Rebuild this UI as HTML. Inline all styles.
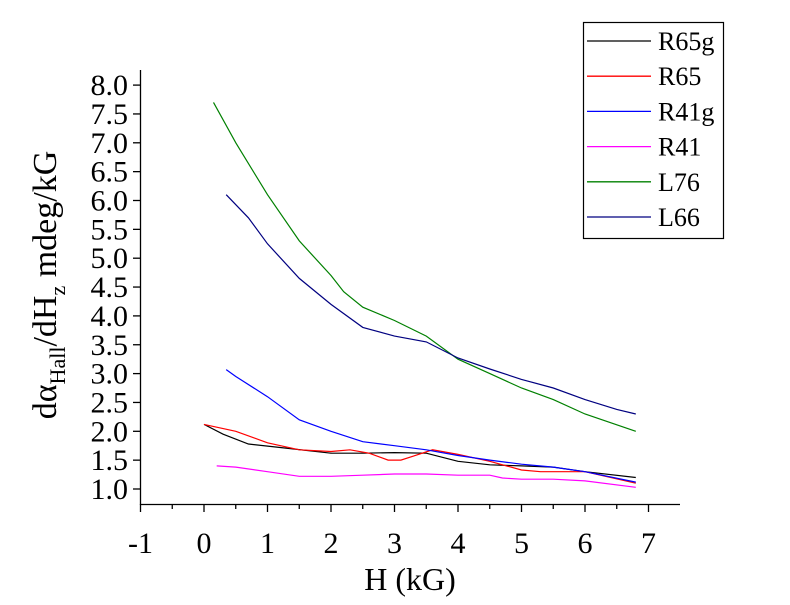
<!DOCTYPE html>
<html><head><meta charset="utf-8"><style>
body{margin:0;background:#fff}
svg{display:block}
text{font-family:"Liberation Serif",serif;fill:#000}
</style></head><body>
<svg id="s" width="790" height="605" viewBox="0 0 790 605" xmlns="http://www.w3.org/2000/svg">
<g id="ax" stroke="#000" stroke-width="1.3" fill="none">
<line x1="140.5" y1="70" x2="140.5" y2="505"/>
<line x1="140" y1="504.5" x2="680" y2="504.5"/>
</g>
<g id="lbl" font-size="30"></g>
<text x="410" y="590" font-size="32" text-anchor="middle">H (kG)</text>
<text transform="translate(56,285) rotate(-90)" font-size="34" text-anchor="middle">dα<tspan font-size="22" dy="9">Hall</tspan><tspan dy="-9">/dH</tspan><tspan font-size="22" dy="9">z</tspan><tspan dy="-9"> mdeg/kG</tspan></text>
<g id="ser" fill="none" stroke-width="1.2"></g>
<rect x="583.5" y="22.5" width="140" height="216" fill="none" stroke="#000" stroke-width="1.2"/>
<g id="leg" font-size="26"></g>
</svg>
<script>
var NS="http://www.w3.org/2000/svg",s=document.getElementById('s');
function el(p,t,a,txt){var e=document.createElementNS(NS,t);for(var k in a)e.setAttribute(k,a[k]);if(txt!=null)e.textContent=txt;p.appendChild(e);return e;}
function X(h){return 204+63.5*h} function Y(v){return 489-57.7*(v-1)}
var ax=document.getElementById('ax'),lbl=document.getElementById('lbl');
for(var h=-1;h<=7;h++){el(ax,'line',{x1:X(h),y1:504,x2:X(h),y2:512});el(lbl,'text',{x:X(h),y:553,'text-anchor':'middle'},String(h));
 if(h<7)el(ax,'line',{x1:X(h+0.5),y1:504,x2:X(h+0.5),y2:509});}
for(var v=1;v<=8.001;v+=0.5){el(ax,'line',{x1:133,y1:Y(v),x2:140.5,y2:Y(v)});el(lbl,'text',{x:128,y:Y(v)+10,'text-anchor':'end'},v.toFixed(1));}
var S=[
["#000","R65g",[[0,2.12],[0.3,1.95],[0.7,1.78],[1.2,1.72],[2,1.62],[2.5,1.62],[3,1.63],[3.5,1.62],[4,1.48],[4.5,1.42],[5,1.4],[5.5,1.38],[6,1.3],[6.8,1.2]]],
["#f00","R65",[[0,2.12],[0.5,2.0],[1,1.8],[1.5,1.68],[2,1.65],[2.3,1.68],[2.6,1.62],[2.9,1.5],[3.1,1.5],[3.3,1.57],[3.6,1.68],[4,1.6],[4.5,1.48],[5,1.33],[5.3,1.3],[6,1.3],[6.8,1.1]]],
["#00f","R41g",[[0.35,3.07],[0.5,2.95],[1,2.6],[1.5,2.2],[2,2.0],[2.5,1.82],[3,1.75],[3.5,1.68],[4,1.58],[4.5,1.5],[5,1.43],[5.5,1.38],[6,1.3],[6.8,1.12]]],
["#f0f","R41",[[0.2,1.4],[0.5,1.38],[1,1.3],[1.5,1.22],[2,1.22],[2.5,1.24],[3,1.26],[3.5,1.26],[4,1.24],[4.5,1.24],[4.7,1.19],[5,1.17],[5.5,1.17],[6,1.14],[6.8,1.03]]],
["#008000","L76",[[0.15,7.7],[0.5,7.0],[1,6.1],[1.5,5.3],[2,4.7],[2.2,4.42],[2.5,4.15],[3,3.92],[3.5,3.65],[4,3.25],[4.5,3.0],[5,2.75],[5.5,2.55],[6,2.3],[6.8,2.0]]],
["#000080","L66",[[0.35,6.1],[0.7,5.7],[1,5.25],[1.5,4.65],[2,4.2],[2.5,3.8],[3,3.65],[3.5,3.55],[4,3.27],[4.5,3.08],[5,2.9],[5.5,2.75],[6,2.55],[6.5,2.38],[6.8,2.3]]]];
var g=document.getElementById('ser'),lg=document.getElementById('leg');
S.forEach(function(d,i){el(g,'polyline',{stroke:d[0],points:d[2].map(function(p){return X(p[0]).toFixed(1)+','+Y(p[1]).toFixed(1)}).join(' ')});
 var y=41+35.2*i;el(lg,'line',{x1:587,y1:y,x2:651,y2:y,stroke:d[0],'stroke-width':1.3});el(lg,'text',{x:658,y:y+9},d[1]);});
</script>
</body></html>
